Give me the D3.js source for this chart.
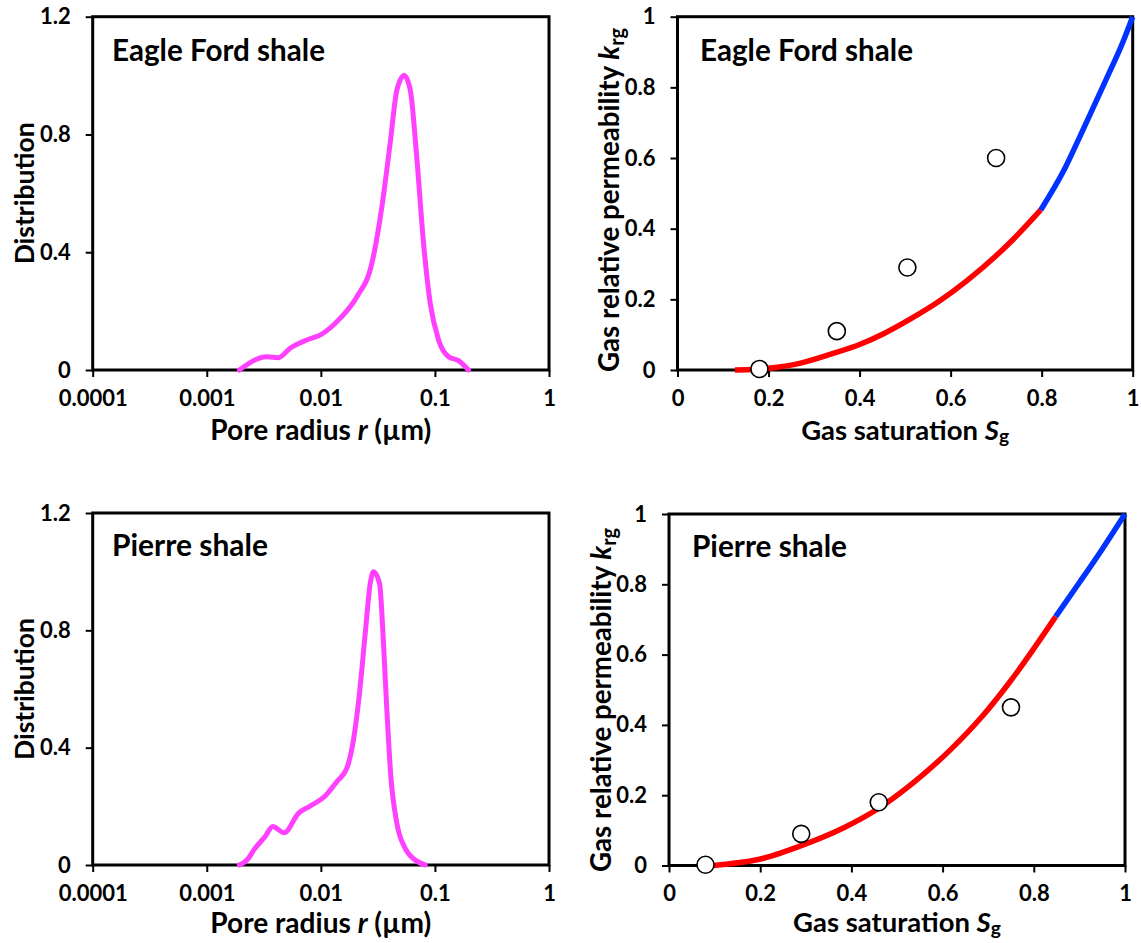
<!DOCTYPE html>
<html>
<head>
<meta charset="utf-8">
<script src="https://cdn.jsdelivr.net/npm/d3@7"></script>
<style>
  body { margin: 0; background: #fff; }
  svg { display: block; font-family: Lato, "Open Sans", "DejaVu Sans", sans-serif; font-weight: bold; }
</style>
</head>
<body>
<svg id="chart" width="1141" height="943"></svg>
<script>
// ---- Pore size distributions (radius in µm, normalized distribution) ----
const eagleFordRadius = [0.00193, 0.00336, 0.00425, 0.00538, 0.00754, 0.0102, 0.0148, 0.0207, 0.028, 0.0343,
                         0.0405, 0.0464, 0.0538, 0.0608, 0.0696, 0.0795, 0.091, 0.1076, 0.1318, 0.161, 0.197];
const eagleFordDist   = [0, 0.045, 0.042, 0.074, 0.102, 0.122, 0.176, 0.249, 0.362, 0.555,
                         0.770, 0.951, 1.0, 0.951, 0.713, 0.430, 0.226, 0.102, 0.045, 0.032, 0];

const pierreRadius = [0.00193, 0.00225, 0.00265, 0.00325, 0.00379, 0.00477, 0.00636, 0.00806, 0.0109, 0.0138,
                      0.0169, 0.0193, 0.0218, 0.0245, 0.0271, 0.0289, 0.0327, 0.0354, 0.0379, 0.0411,
                      0.0464, 0.0548, 0.0671, 0.0822];
const pierreDist   = [0, 0.017, 0.057, 0.097, 0.131, 0.110, 0.176, 0.201, 0.235, 0.284,
                      0.330, 0.426, 0.585, 0.790, 0.960, 1.0, 0.960, 0.756, 0.528, 0.301,
                      0.142, 0.057, 0.017, 0];

// ---- Gas relative permeability: model curves (two regimes) and measurements ----
const eagleFordSgLow  = [0.126, 0.17, 0.22, 0.258, 0.337, 0.40, 0.455, 0.51, 0.573, 0.636, 0.73, 0.798];
const eagleFordKrgLow = [0, 0.002, 0.008, 0.016, 0.045, 0.072, 0.104, 0.143, 0.193, 0.253, 0.36, 0.453];
const eagleFordSgHigh  = [0.798, 0.85, 0.888, 0.943, 0.979, 1.0];
const eagleFordKrgHigh = [0.453, 0.568, 0.672, 0.826, 0.93, 1.0];
const eagleFordSgMeas  = [0.18, 0.35, 0.505, 0.70];
const eagleFordKrgMeas = [0.003, 0.11, 0.29, 0.60];

const pierreSgLow  = [0.096, 0.205, 0.293, 0.381, 0.46, 0.538, 0.617, 0.686, 0.749, 0.848];
const pierreKrgLow = [0, 0.02, 0.058, 0.106, 0.163, 0.238, 0.329, 0.423, 0.525, 0.708];
const pierreSgHigh  = [0.848, 0.90, 0.95, 1.0];
const pierreKrgHigh = [0.708, 0.805, 0.90, 1.0];
const pierreSgMeas  = [0.08, 0.29, 0.46, 0.75];
const pierreKrgMeas = [0.002, 0.09, 0.18, 0.45];

// ---- Axis ticks ----
const radiusTicks = [0.0001, 0.001, 0.01, 0.1, 1];
const radiusTickLabels = ["0.0001", "0.001", "0.01", "0.1", "1"];
const distTicks = [0, 0.4, 0.8, 1.2];
const satTicks = [0, 0.2, 0.4, 0.6, 0.8, 1];
const krgTicks = [0, 0.2, 0.4, 0.6, 0.8, 1];

const svg = d3.select("#chart");

const MAGENTA = "#ff40ff", RED = "#ff0000", BLUE = "#0033ff";

function zip(xs, ys) { return xs.map((v, i) => [v, ys[i]]); }

// Scale a text element's font so that it spans the given length
function fitText(t, length) {
  const base = 24;
  t.style("font-size", base + "px");
  const w = t.node().getComputedTextLength();
  t.style("font-size", (base * length / w).toFixed(2) + "px");
  return t;
}

// Frame, ticks and tick labels for one panel
function drawAxes(box, x, y, xTicks, xFmt, yTicks, yFmt) {
  const g = svg.append("g");
  const xa = g.append("g")
    .attr("transform", `translate(0,${box.bottom})`)
    .call(d3.axisBottom(x).tickValues(xTicks).tickFormat(xFmt).tickSize(7).tickPadding(13));
  const ya = g.append("g")
    .attr("transform", `translate(${box.left},0)`)
    .call(d3.axisLeft(y).tickValues(yTicks).tickFormat(yFmt).tickSize(7).tickPadding(15));
  [xa, ya].forEach(a => {
    a.attr("font-family", null).attr("font-size", null);
    a.select(".domain").remove();
    a.selectAll(".tick line").attr("stroke", "#000").attr("stroke-width", 2);
    a.selectAll(".tick text").attr("fill", "#000").style("font-size", "22px").style("font-weight", "bold");
  });
  g.append("rect")
    .attr("x", box.left).attr("y", box.top)
    .attr("width", box.right - box.left).attr("height", box.bottom - box.top)
    .attr("fill", "none").attr("stroke", "#000").attr("stroke-width", 3);
  return g;
}

function panelTitle(text, px, py, len) {
  const t = svg.append("text").attr("x", px).attr("y", py).attr("fill", "#000").text(text);
  fitText(t, len);
}

function xTitleRadius(box, baseY) {
  const t = svg.append("text")
    .attr("x", (box.left + box.right) / 2).attr("y", baseY)
    .attr("text-anchor", "middle");
  t.append("tspan").text("Pore radius ");
  t.append("tspan").style("font-style", "italic").text("r");
  t.append("tspan").text(" (\u00b5m)");
  fitText(t, 221);
}

function xTitleSat(box, baseY) {
  const t = svg.append("text")
    .attr("x", (box.left + box.right) / 2).attr("y", baseY)
    .attr("text-anchor", "middle");
  t.append("tspan").text("Gas saturation ");
  t.append("tspan").style("font-style", "italic").text("S");
  t.append("tspan").attr("dy", "0.18em").style("font-size", "0.7em").text("g");
  fitText(t, 208);
}

function yTitleDist(box, baseX) {
  const cy = (box.top + box.bottom) / 2;
  const t = svg.append("text")
    .attr("transform", `translate(${baseX},${cy}) rotate(-90)`)
    .attr("text-anchor", "middle").text("Distribution");
  fitText(t, 142);
}

function yTitleKrg(baseX, cy) {
  const t = svg.append("text")
    .attr("transform", `translate(${baseX},${cy}) rotate(-90)`)
    .attr("text-anchor", "middle");
  t.append("tspan").text("Gas relative permeability ");
  t.append("tspan").style("font-style", "italic").text("k");
  t.append("tspan").attr("dy", "0.25em").style("font-size", "0.72em").text("rg");
  fitText(t, 344);
}

// ---- Pore size distribution panels ----
function psdPanel(box, radius, dist, title, titlePos, titleLen, xTitleY) {
  const x = d3.scaleLog().domain([0.0001, 1]).range([box.left, box.right]);
  const y = d3.scaleLinear().domain([0, 1.2]).range([box.bottom, box.top]);
  drawAxes(box, x, y, radiusTicks, (d, i) => radiusTickLabels[i], distTicks, d => d === 0 ? "0" : d3.format(".1f")(d));
  const line = d3.line().x(d => x(d[0])).y(d => y(d[1])).curve(d3.curveMonotoneX);
  svg.append("path").datum(zip(radius, dist))
    .attr("d", line).attr("fill", "none").attr("stroke", MAGENTA)
    .attr("stroke-width", 5).attr("stroke-linecap", "round").attr("stroke-linejoin", "round");
  panelTitle(title, titlePos[0], titlePos[1], titleLen);
  xTitleRadius(box, xTitleY);
  yTitleDist(box, 34);
}

// ---- Relative permeability panels ----
function krgPanel(box, sgLo, krLo, sgHi, krHi, sgM, krM, title, titlePos, titleLen, xTitleY, yTitleX, yTitleCy) {
  const x = d3.scaleLinear().domain([0, 1]).range([box.left, box.right]);
  const y = d3.scaleLinear().domain([0, 1]).range([box.bottom, box.top]);
  const fmt = d => (d === 0 || d === 1) ? String(d) : d3.format(".1f")(d);
  drawAxes(box, x, y, satTicks, fmt, krgTicks, fmt);
  const line = d3.line().x(d => x(d[0])).y(d => y(d[1])).curve(d3.curveMonotoneX);
  svg.append("path").datum(zip(sgLo, krLo))
    .attr("d", line).attr("fill", "none").attr("stroke", RED).attr("stroke-width", 5.5);
  svg.append("path").datum(zip(sgHi, krHi))
    .attr("d", line).attr("fill", "none").attr("stroke", BLUE).attr("stroke-width", 5.5);
  svg.append("g").selectAll("circle").data(zip(sgM, krM)).join("circle")
    .attr("cx", d => x(d[0])).attr("cy", d => y(d[1])).attr("r", 8.5)
    .attr("fill", "#fff").attr("stroke", "#000").attr("stroke-width", 1.6);
  panelTitle(title, titlePos[0], titlePos[1], titleLen);
  xTitleSat(box, xTitleY);
  yTitleKrg(yTitleX, yTitleCy);
}

psdPanel({left: 92.7, right: 549, top: 16.7, bottom: 370}, eagleFordRadius, eagleFordDist,
         "Eagle Ford shale", [112, 61], 213, 440);
psdPanel({left: 92.7, right: 549, top: 513, bottom: 865}, pierreRadius, pierreDist,
         "Pierre shale", [112, 556], 156, 933);

krgPanel({left: 677.5, right: 1132.7, top: 16.7, bottom: 370},
         eagleFordSgLow, eagleFordKrgLow, eagleFordSgHigh, eagleFordKrgHigh, eagleFordSgMeas, eagleFordKrgMeas,
         "Eagle Ford shale", [700, 61], 213, 440, 619, 200);
krgPanel({left: 669, right: 1125, top: 514, bottom: 865.5},
         pierreSgLow, pierreKrgLow, pierreSgHigh, pierreKrgHigh, pierreSgMeas, pierreKrgMeas,
         "Pierre shale", [692, 557], 155, 932, 611, 700);
</script>
</body>
</html>
